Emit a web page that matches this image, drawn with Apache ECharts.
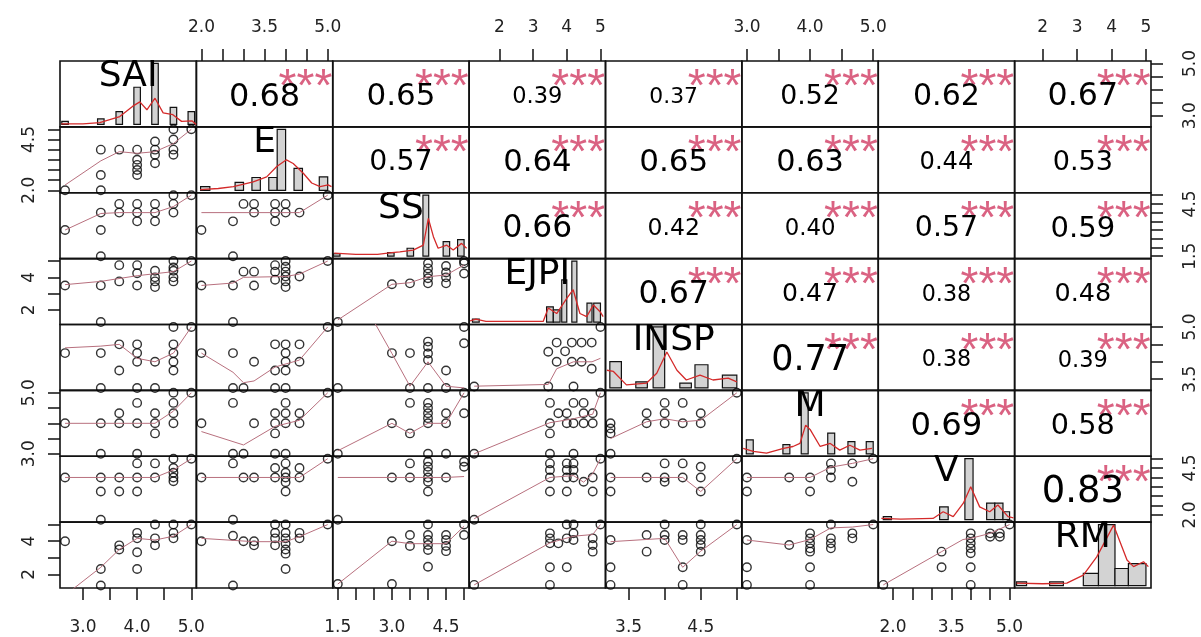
<!DOCTYPE html>
<html><head><meta charset="utf-8">
<script src="https://cdn.jsdelivr.net/npm/echarts/dist/echarts.min.js"></script>
<style>html,body{margin:0;padding:0;background:#fff}#c{width:1201px;height:637px}</style>
</head><body><div id="c"></div>
<script>
// ---------------- data ----------------
const varNames = ['SAI','E','SS','EJPI','INSP','M','V','RM'];
const varMin = [2.67, 2.0, 1.5, 1.25, 3.25, 3.0, 1.75, 1.33];
const varMax = [5.0, 5.0, 5.0, 5.0, 5.0, 5.0, 5.0, 5.0];

// tick positions per variable
const ticksSAI = [3.0,3.5,4.0,4.5,5.0];
const ticksE = [2.0,2.5,3.0,3.5,4.0,4.5,5.0];
const ticksSS = [1.5,2.0,2.5,3.0,3.5,4.0,4.5,5.0];
const ticksEJPI = [2,3,4,5];
const ticksINSP = [3.5,4.0,4.5,5.0];
const ticksM = [3.0,3.5,4.0,4.5,5.0];
const ticksV = [2.0,2.5,3.0,3.5,4.0,4.5,5.0];
const ticksRM = [2,3,4,5];
// labelled ticks on the column axis (top/bottom) and on the row axis (left/right)
const colLabelsSAI = [3.0,4.0,5.0], rowLabelsSAI = [3.0,5.0];
const colLabelsE = [2.0,3.5,5.0], rowLabelsE = [2.0,4.5];
const colLabelsSS = [1.5,3.0,4.5], rowLabelsSS = [1.5,4.5];
const colLabelsEJPI = [2,3,4,5], rowLabelsEJPI = [2,4];
const colLabelsINSP = [3.5,4.5], rowLabelsINSP = [3.5,5.0];
const colLabelsM = [3.0,4.0,5.0], rowLabelsM = [3.0,5.0];
const colLabelsV = [2.0,3.5,5.0], rowLabelsV = [2.0,4.5];
const colLabelsRM = [2,3,4,5], rowLabelsRM = [2,4];
const labelDecimals = [1,1,1,0,1,1,1,0];

// correlations (upper triangle, row by row) and significance
const corrSAI = [0.68,0.65,0.39,0.37,0.52,0.62,0.67];
const corrE = [0.57,0.64,0.65,0.63,0.44,0.53];
const corrSS = [0.66,0.42,0.40,0.57,0.59];
const corrEJPI = [0.67,0.47,0.38,0.48];
const corrINSP = [0.77,0.38,0.39];
const corrM = [0.69,0.58];
const corrV = [0.83];
const signifSAI = ['***','***','***','***','***','***','***'];
const signifE = ['***','***','***','***','***','***'];
const signifSS = ['***','***','***','***','***'];
const signifEJPI = ['***','***','***','***'];
const signifINSP = ['***','***','***'];
const signifM = ['***','***'];
const signifV = ['***'];

// histograms on the diagonal: [binStart, binEnd, relative density]
const histSAI = [[2.61,2.73,0.05],[3.27,3.39,0.09],[3.61,3.73,0.21],[3.94,4.06,0.61],[4.27,4.39,1.0],[4.61,4.73,0.28],[4.94,5.06,0.21]];
const histE = [[1.98,2.2,0.06],[2.8,3.0,0.13],[3.2,3.4,0.21],[3.6,3.8,0.21],[3.8,4.0,1.0],[4.2,4.4,0.36],[4.8,5.0,0.22]];
const histSS = [[1.38,1.56,0.04],[2.88,3.06,0.06],[3.42,3.6,0.13],[3.86,4.02,1.0],[4.42,4.6,0.24],[4.82,5.0,0.27]];
const histEJPI = [[1.2,1.4,0.05],[3.4,3.6,0.25],[3.6,3.8,0.2],[3.85,4.0,0.69],[4.15,4.3,1.0],[4.6,4.75,0.31],[4.8,5.0,0.31]];
const histINSP = [[3.24,3.4,0.43],[3.6,3.76,0.1],[3.84,4.0,1.0],[4.21,4.37,0.08],[4.42,4.6,0.38],[4.8,5.0,0.21]];
const histM = [[2.99,3.1,0.23],[3.57,3.68,0.15],[3.86,3.97,1.0],[4.28,4.39,0.34],[4.6,4.71,0.2],[4.89,5.0,0.2]];
const histV = [[1.75,1.96,0.05],[3.2,3.42,0.21],[3.85,4.06,1.0],[4.41,4.62,0.27],[4.62,4.83,0.27],[4.83,5.0,0.13]];
const histRM = [[1.24,1.53,0.06],[2.2,2.6,0.06],[3.18,3.62,0.2],[3.62,4.1,1.0],[4.1,4.49,0.28],[4.49,5.0,0.36]];
// density curves on the diagonal: [x, relative density]
const densSAI = [[2.6,0.01],[3.0,0.01],[3.31,0.03],[3.68,0.13],[3.92,0.3],[4.05,0.37],[4.18,0.24],[4.33,0.43],[4.48,0.19],[4.66,0.16],[4.82,0.05],[5.01,0.06],[5.09,0.0]];
const densE = [[1.97,0.01],[2.4,0.03],[2.76,0.06],[3.23,0.14],[3.55,0.22],[3.79,0.39],[4.02,0.5],[4.18,0.44],[4.42,0.28],[4.62,0.12],[4.82,0.06],[5.01,0.09],[5.09,0.06]];
const densSS = [[1.4,0.05],[2.0,0.03],[2.6,0.03],[3.0,0.06],[3.22,0.07],[3.59,0.1],[3.87,0.18],[4.01,0.62],[4.15,0.32],[4.28,0.13],[4.52,0.18],[4.7,0.1],[4.93,0.21],[5.07,0.13]];
const densEJPI = [[1.13,0.02],[1.3,0.05],[1.6,0.01],[3.3,0.01],[3.45,0.23],[3.7,0.14],[4.0,0.39],[4.19,0.53],[4.39,0.14],[4.59,0.09],[4.79,0.28],[4.99,0.17],[5.08,0.09]];
const densINSP = [[3.2,0.29],[3.29,0.27],[3.47,0.05],[3.75,0.08],[3.89,0.24],[4.03,0.59],[4.17,0.29],[4.3,0.13],[4.49,0.21],[4.67,0.13],[4.88,0.16],[5.0,0.1]];
const densM = [[2.94,0.09],[3.1,0.04],[3.31,0.01],[3.58,0.09],[3.73,0.12],[3.84,0.17],[3.93,0.47],[4.0,0.4],[4.16,0.12],[4.32,0.17],[4.47,0.06],[4.63,0.14],[4.79,0.06],[4.98,0.09]];
const densV = [[1.7,0.02],[2.2,0.01],[3.03,0.02],[3.29,0.13],[3.55,0.05],[3.81,0.27],[4.0,0.54],[4.23,0.21],[4.49,0.13],[4.7,0.24],[4.96,0.05],[5.1,0.03]];
const densRM = [[1.24,0.04],[2.0,0.03],[2.7,0.04],[3.18,0.17],[3.57,0.47],[4.06,0.99],[4.45,0.42],[4.64,0.31],[4.93,0.39],[5.07,0.31]];

// scatter points [x, y] and smoother [x, y] for the lower panels (y var _ x var)
const pts_E_SAI = [[2.67,2.0],[3.33,4.0],[3.33,2.75],[3.33,2.0],[3.67,4.0],[4.0,4.0],[4.0,3.5],[4.0,3.25],[4.0,3.0],[4.0,2.75],[4.33,4.4],[4.33,4.0],[4.33,3.75],[4.33,3.33],[4.67,5.0],[4.67,4.5],[4.67,4.0],[4.67,3.75],[5.0,5.0]];
const fit_E_SAI = [[2.67,2.26],[3.33,3.45],[3.67,3.9],[4.0,3.82],[4.33,3.9],[4.67,4.3],[5.0,5.0]];
const pts_SS_SAI = [[2.67,3.0],[3.33,4.0],[3.33,3.0],[3.33,1.5],[3.67,4.5],[3.67,4.0],[4.0,4.5],[4.0,4.0],[4.0,3.5],[4.33,4.5],[4.33,4.0],[4.33,3.5],[4.67,5.0],[4.67,4.5],[4.67,4.0],[5.0,5.0]];
const fit_SS_SAI = [[2.67,3.0],[3.33,3.95],[3.67,4.0],[4.0,4.0],[4.33,4.0],[4.67,4.35],[5.0,5.0]];
const pts_SS_E = [[2.0,3.0],[2.75,3.5],[2.75,1.5],[3.0,4.5],[3.25,4.5],[3.25,4.0],[3.75,4.5],[3.75,4.0],[3.75,3.5],[4.0,4.5],[4.0,4.0],[4.33,4.0],[5.0,5.0]];
const fit_SS_E = [[2.0,4.0],[4.33,4.0],[5.0,5.0]];
const pts_EJPI_SAI = [[2.67,3.5],[3.33,3.5],[3.33,1.25],[3.67,4.75],[3.67,3.75],[4.0,4.75],[4.0,4.25],[4.0,3.5],[4.33,4.4],[4.33,4.0],[4.33,3.75],[4.33,3.4],[4.67,5.0],[4.67,4.6],[4.67,4.4],[4.67,4.0],[4.67,3.75],[5.0,5.0]];
const fit_EJPI_SAI = [[2.67,3.55],[3.33,3.75],[4.0,4.1],[4.67,4.35],[5.0,5.0]];
const pts_EJPI_E = [[2.0,3.5],[2.75,3.5],[2.75,1.25],[3.0,4.35],[3.25,4.35],[3.25,3.5],[3.75,4.75],[3.75,4.35],[3.75,3.85],[4.0,5.0],[4.0,4.65],[4.0,4.35],[4.0,4.05],[4.0,3.75],[4.0,3.4],[4.33,4.05],[5.0,5.0]];
const fit_EJPI_E = [[2.0,3.5],[2.75,3.65],[3.0,4.0],[4.0,4.05],[4.33,4.2],[5.0,5.0]];
const pts_EJPI_SS = [[1.5,1.25],[3.0,3.57],[3.5,3.63],[4.0,4.86],[4.0,4.55],[4.0,4.24],[4.0,3.94],[4.0,3.63],[4.5,4.7],[4.5,4.3],[4.5,4.0],[4.5,3.63],[5.0,4.86],[5.0,4.24],[5.0,5.0]];
const fit_EJPI_SS = [[1.5,1.38],[3.0,3.57],[3.5,3.67],[4.0,4.04],[4.5,4.14],[5.0,4.76]];
const pts_INSP_SAI = [[2.67,4.25],[3.33,4.25],[3.33,3.25],[3.67,4.5],[3.67,3.75],[4.0,4.5],[4.0,4.25],[4.0,4.0],[4.0,3.25],[4.33,4.0],[4.33,3.25],[4.67,5.0],[4.67,4.5],[4.67,4.25],[4.67,4.0],[4.67,3.75],[5.0,5.0]];
const fit_INSP_SAI = [[2.67,4.4],[3.33,4.45],[3.67,4.5],[4.0,4.1],[4.33,4.0],[4.67,4.25],[5.0,5.0]];
const pts_INSP_E = [[2.0,4.25],[2.75,4.25],[2.75,3.25],[3.0,3.25],[3.25,4.0],[3.75,4.5],[3.75,3.75],[3.75,3.25],[4.0,4.5],[4.0,4.25],[4.0,4.0],[4.0,3.75],[4.0,3.25],[4.33,4.5],[4.33,4.0],[5.0,5.0]];
const fit_INSP_E = [[2.0,4.25],[2.75,3.7],[3.0,3.4],[3.25,3.45],[3.75,3.85],[4.33,4.05],[5.0,5.0]];
const pts_INSP_SS = [[1.5,3.25],[3.0,4.25],[3.5,4.25],[3.5,3.25],[4.0,4.58],[4.0,4.43],[4.0,4.24],[4.0,4.05],[4.0,3.25],[4.5,3.75],[4.5,3.25],[5.0,5.0],[5.0,4.53]];
const fit_INSP_SS = [[1.5,7.0],[3.0,4.24],[3.5,3.3],[4.0,4.0],[4.5,3.3],[5.0,3.25]];
const pts_INSP_EJPI = [[1.25,3.29],[3.45,4.29],[3.45,3.29],[3.7,4.55],[3.7,4.0],[3.95,4.3],[4.15,4.55],[4.15,4.0],[4.2,3.29],[4.44,4.55],[4.44,4.0],[4.74,4.55],[4.74,3.8],[5.0,5.0]];
const fit_INSP_EJPI = [[1.25,3.3],[3.45,3.35],[3.7,3.8],[4.2,4.0],[4.75,4.0],[5.0,4.1]];
const pts_M_SAI = [[2.67,4.0],[3.33,4.0],[3.33,3.0],[3.67,4.33],[3.67,4.0],[4.0,4.67],[4.0,4.0],[4.0,3.0],[4.33,4.33],[4.33,4.0],[4.33,3.67],[4.67,5.0],[4.67,4.67],[4.67,4.33],[4.67,4.0],[5.0,5.0]];
const fit_M_SAI = [[2.67,4.0],[4.33,4.0],[4.67,4.4],[5.0,5.0]];
const pts_M_E = [[2.0,4.0],[2.75,4.67],[2.75,3.0],[3.0,3.0],[3.25,4.0],[3.75,4.33],[3.75,4.0],[3.75,3.67],[3.75,3.0],[4.0,4.67],[4.0,4.33],[4.0,4.0],[4.0,3.0],[4.33,4.33],[4.33,4.0],[5.0,5.0]];
const fit_M_E = [[2.0,3.73],[3.0,3.29],[3.75,3.9],[4.33,4.1],[5.0,5.0]];
const pts_M_SS = [[1.5,3.0],[3.0,4.0],[3.5,4.67],[3.5,3.67],[4.0,4.67],[4.0,4.5],[4.0,4.33],[4.0,4.17],[4.0,4.0],[4.0,3.0],[4.5,4.33],[4.5,4.0],[4.5,3.0],[5.0,5.0],[5.0,4.33]];
const fit_M_SS = [[1.5,3.1],[3.0,4.0],[3.5,3.67],[4.0,4.0],[4.5,4.0],[5.0,5.0]];
const pts_M_EJPI = [[1.25,3.0],[3.5,4.67],[3.5,4.0],[3.5,3.67],[3.5,3.0],[3.75,4.33],[4.0,4.33],[4.0,4.0],[4.2,4.67],[4.2,4.0],[4.2,3.0],[4.5,4.67],[4.5,4.33],[4.5,4.0],[4.77,4.33],[4.77,4.0],[5.0,5.0]];
const fit_M_EJPI = [[1.25,3.0],[3.5,4.02],[4.2,4.15],[4.77,4.3],[5.0,5.0]];
const pts_M_INSP = [[3.25,4.0],[3.25,3.83],[3.25,3.67],[3.25,3.0],[3.75,4.33],[3.75,4.0],[4.0,4.67],[4.0,4.33],[4.0,4.0],[4.25,4.67],[4.25,4.0],[4.5,4.33],[4.5,4.0],[5.0,5.0]];
const fit_M_INSP = [[3.25,3.5],[3.75,4.05],[4.0,4.15],[4.25,4.05],[4.5,4.1],[5.0,5.0]];
const pts_V_SAI = [[2.67,4.0],[3.33,4.0],[3.33,3.25],[3.33,1.75],[3.67,4.0],[3.67,3.25],[4.0,4.75],[4.0,4.0],[4.0,3.25],[4.33,4.75],[4.33,4.0],[4.67,5.0],[4.67,4.5],[4.67,4.25],[4.67,4.0],[4.67,3.8],[5.0,5.0]];
const fit_V_SAI = [[2.67,4.0],[4.33,4.0],[4.67,4.4],[5.0,5.0]];
const pts_V_E = [[2.0,4.0],[2.75,4.75],[2.75,1.75],[3.0,4.0],[3.25,4.0],[3.75,4.5],[3.75,4.0],[4.0,4.75],[4.0,4.25],[4.0,4.0],[4.0,3.75],[4.0,3.25],[4.33,4.5],[4.33,4.0],[5.0,5.0]];
const fit_V_E = [[2.0,4.0],[4.33,4.0],[5.0,5.0]];
const pts_V_SS = [[1.5,1.75],[3.0,4.0],[3.5,4.75],[3.5,4.0],[4.0,4.84],[4.0,4.57],[4.0,4.3],[4.0,4.0],[4.0,3.77],[4.0,3.25],[4.5,4.0],[5.0,4.84],[5.0,4.57]];
const fit_V_SS = [[1.5,4.0],[4.5,4.0],[5.0,4.05]];
const pts_V_EJPI = [[1.25,1.75],[3.5,4.75],[3.5,4.4],[3.5,4.0],[3.5,3.25],[4.0,4.75],[4.0,4.4],[4.0,4.0],[4.0,3.25],[4.2,4.75],[4.2,4.4],[4.2,4.0],[4.5,3.77],[4.77,4.0],[4.77,3.25],[5.0,5.0]];
const fit_V_EJPI = [[1.25,1.8],[3.5,4.0],[4.2,4.1],[4.5,3.75],[4.77,4.2],[5.0,5.0]];
const pts_V_INSP = [[3.25,4.0],[3.25,3.25],[3.75,4.0],[4.0,4.75],[4.0,4.0],[4.0,3.77],[4.25,4.75],[4.25,4.0],[4.5,4.57],[4.5,4.0],[4.5,3.25],[5.0,5.0]];
const fit_V_INSP = [[3.25,4.0],[4.25,4.0],[4.5,3.25],[5.0,5.0]];
const pts_V_M = [[3.0,4.0],[3.0,3.25],[3.67,4.0],[4.0,4.0],[4.0,3.25],[4.33,4.75],[4.33,4.4],[4.33,4.0],[4.67,4.75],[4.67,3.77],[5.0,5.0]];
const fit_V_M = [[3.0,4.0],[4.0,4.0],[4.33,4.55],[4.67,4.75],[5.0,5.0]];
const pts_RM_SAI = [[2.67,4.0],[3.33,2.33],[3.33,1.33],[3.67,3.75],[3.67,3.5],[4.0,4.5],[4.0,4.17],[4.0,3.33],[4.0,2.33],[4.33,5.0],[4.33,4.17],[4.33,3.75],[4.67,5.0],[4.67,4.5],[4.67,4.17],[5.0,5.0]];
const fit_RM_SAI = [[2.67,0.75],[3.33,2.43],[3.67,3.5],[4.0,4.17],[4.33,4.07],[4.67,4.3],[5.0,5.0]];
const pts_RM_E = [[2.0,4.0],[2.75,4.33],[2.75,1.33],[3.0,4.0],[3.25,4.0],[3.25,3.75],[3.75,5.0],[3.75,4.5],[3.75,4.17],[3.75,3.75],[4.0,5.0],[4.0,4.5],[4.0,4.17],[4.0,3.85],[4.0,3.5],[4.0,3.25],[4.0,2.33],[4.33,4.5],[4.33,4.17],[5.0,5.0]];
const fit_RM_E = [[2.0,4.17],[3.25,3.97],[4.0,3.97],[4.33,4.27],[5.0,5.0]];
const pts_RM_SS = [[1.5,1.42],[3.0,4.0],[3.0,1.42],[3.5,4.37],[3.5,3.71],[4.0,5.0],[4.0,4.37],[4.0,4.07],[4.0,3.77],[4.0,3.47],[4.0,2.46],[4.5,4.37],[4.5,4.07],[4.5,3.71],[4.5,3.4],[5.0,5.0],[5.0,4.37]];
const fit_RM_SS = [[1.5,1.42],[3.0,4.0],[3.5,3.85],[4.0,3.85],[4.5,3.85],[5.0,4.9]];
const pts_RM_EJPI = [[1.25,1.37],[3.5,4.47],[3.5,4.17],[3.5,3.87],[3.5,2.43],[3.5,1.37],[3.75,3.87],[4.0,5.0],[4.0,4.17],[4.0,2.43],[4.2,5.0],[4.2,4.47],[4.2,4.07],[4.77,4.17],[4.77,3.77],[4.77,3.37],[5.0,5.0]];
const fit_RM_EJPI = [[1.25,1.37],[3.5,3.9],[4.2,4.3],[4.77,4.4],[5.0,5.0]];
const pts_RM_INSP = [[3.25,4.07],[3.25,2.43],[3.25,1.37],[3.75,4.37],[3.75,3.37],[4.0,5.0],[4.0,4.37],[4.0,4.07],[4.25,4.37],[4.25,4.07],[4.25,2.43],[4.25,1.37],[4.5,5.0],[4.5,4.37],[4.5,4.07],[4.5,3.77],[4.5,3.37],[5.0,5.0]];
const fit_RM_INSP = [[3.25,3.97],[4.0,4.17],[4.25,2.43],[4.5,3.4],[5.0,5.0]];
const pts_RM_M = [[3.0,4.07],[3.0,2.43],[3.0,1.37],[3.67,3.77],[4.0,4.47],[4.0,4.17],[4.0,3.87],[4.0,3.57],[4.0,3.37],[4.0,2.43],[4.0,1.37],[4.33,5.0],[4.33,4.17],[4.33,3.87],[4.33,3.57],[4.67,4.47],[4.67,4.17],[5.0,5.0]];
const fit_RM_M = [[3.0,4.07],[3.67,3.77],[4.0,4.1],[4.33,4.8],[4.67,4.85],[5.0,5.0]];
const pts_RM_V = [[1.75,1.37],[3.25,3.37],[3.25,2.43],[4.0,4.47],[4.0,4.17],[4.0,3.87],[4.0,3.57],[4.0,3.27],[4.0,2.43],[4.0,1.37],[4.5,4.47],[4.5,4.27],[4.75,4.47],[4.75,4.27],[5.0,5.0]];
const fit_RM_V = [[1.75,1.37],[3.25,3.37],[3.8,4.1],[4.0,4.17],[4.5,4.47],[5.0,5.0]];

// ---------------- tables built from the arrays ----------------
const tickVals = [ticksSAI,ticksE,ticksSS,ticksEJPI,ticksINSP,ticksM,ticksV,ticksRM];
const colLabels = [colLabelsSAI,colLabelsE,colLabelsSS,colLabelsEJPI,colLabelsINSP,colLabelsM,colLabelsV,colLabelsRM];
const rowLabels = [rowLabelsSAI,rowLabelsE,rowLabelsSS,rowLabelsEJPI,rowLabelsINSP,rowLabelsM,rowLabelsV,rowLabelsRM];
const corrRows = [corrSAI,corrE,corrSS,corrEJPI,corrINSP,corrM,corrV];
const signifRows = [signifSAI,signifE,signifSS,signifEJPI,signifINSP,signifM,signifV];
const hists = [histSAI,histE,histSS,histEJPI,histINSP,histM,histV,histRM];
const dens = [densSAI,densE,densSS,densEJPI,densINSP,densM,densV,densRM];
const lowerPanels = [
  [1,0,pts_E_SAI,fit_E_SAI],
  [2,0,pts_SS_SAI,fit_SS_SAI],[2,1,pts_SS_E,fit_SS_E],
  [3,0,pts_EJPI_SAI,fit_EJPI_SAI],[3,1,pts_EJPI_E,fit_EJPI_E],[3,2,pts_EJPI_SS,fit_EJPI_SS],
  [4,0,pts_INSP_SAI,fit_INSP_SAI],[4,1,pts_INSP_E,fit_INSP_E],[4,2,pts_INSP_SS,fit_INSP_SS],[4,3,pts_INSP_EJPI,fit_INSP_EJPI],
  [5,0,pts_M_SAI,fit_M_SAI],[5,1,pts_M_E,fit_M_E],[5,2,pts_M_SS,fit_M_SS],[5,3,pts_M_EJPI,fit_M_EJPI],[5,4,pts_M_INSP,fit_M_INSP],
  [6,0,pts_V_SAI,fit_V_SAI],[6,1,pts_V_E,fit_V_E],[6,2,pts_V_SS,fit_V_SS],[6,3,pts_V_EJPI,fit_V_EJPI],[6,4,pts_V_INSP,fit_V_INSP],[6,5,pts_V_M,fit_V_M],
  [7,0,pts_RM_SAI,fit_RM_SAI],[7,1,pts_RM_E,fit_RM_E],[7,2,pts_RM_SS,fit_RM_SS],[7,3,pts_RM_EJPI,fit_RM_EJPI],[7,4,pts_RM_INSP,fit_RM_INSP],[7,5,pts_RM_M,fit_RM_M],[7,6,pts_RM_V,fit_RM_V]
];

// ---------------- layout / style ----------------
const N = 8, GL = 60, GT = 61, GW = 136.375, GH = 65.875;
const FONT = 'DejaVu Sans';
const STAR_COLOR = '#DA6282', FIT_COLOR = '#B8707E', DENS_COLOR = '#D42A2A';
function axisRange(k){ const e = 0.04*(varMax[k]-varMin[k]); return [varMin[k]-e, varMax[k]+e]; }
function fmt(k){ return v => labelDecimals[k] === 0 ? String(Math.round(v)) : Number(v).toFixed(1); }

function makeAxis(g, lo, hi, k, pos, dim){
  const ax = {gridIndex:g, type:'value', min:lo, max:hi, scale:false,
    splitLine:{show:false}, axisLine:{show:false}, axisTick:{show:false}, axisLabel:{show:false}};
  if (!pos) return ax;
  ax.position = pos;
  ax.axisTick = {show:true, inside:false, length:12, lineStyle:{color:'#111', width:1.5}, customValues: tickVals[k]};
  const margins = {top:25, bottom:31, left:22, right:31};
  ax.axisLabel = {show:true, customValues: dim === 'x' ? colLabels[k] : rowLabels[k], formatter: fmt(k),
    fontFamily: FONT, fontSize: 17, color:'#222', margin: margins[pos], rotate: dim === 'y' ? 90 : 0,
    showMinLabel:true, showMaxLabel:true, hideOverlap:false};
  return ax;
}

function textSeries(g, point, text, font, size, color, z){
  return {type:'scatter', xAxisIndex:g, yAxisIndex:g, data:[point], symbolSize:0,
    itemStyle:{color:'#000'}, silent:true, clip:false, z: z || 6,
    label:{show:true, position:'inside', formatter: text, fontFamily: font, fontSize: size, color: color,
      textBorderWidth:0, textShadowBlur:0, opacity:1}};
}

const grids = [], xAxes = [], yAxes = [], series = [];
for (let i = 0; i < N; i++) {
  for (let j = 0; j < N; j++) {
    const g = i*N + j;
    grids.push({left: GL + j*GW, top: GT + i*GH, width: GW, height: GH, show:true,
      borderColor:'#111', borderWidth:1.6, backgroundColor:'rgba(0,0,0,0)'});
    const [xlo, xhi] = axisRange(j);
    const [ylo, yhi] = (i === j) ? [-0.04, 1.04] : axisRange(i);
    const xpos = (i === 0 && j % 2 === 1) ? 'top' : ((i === N-1 && j % 2 === 0) ? 'bottom' : null);
    const ypos = (j === 0 && i % 2 === 1) ? 'left' : ((j === N-1 && i % 2 === 0) ? 'right' : null);
    xAxes.push(makeAxis(g, xlo, xhi, j, xpos, 'x'));
    yAxes.push(makeAxis(g, ylo, yhi, i, ypos, 'y'));

    if (i === j) {
      series.push({type:'custom', xAxisIndex:g, yAxisIndex:g, data: hists[i], clip:true, silent:true, z:2,
        renderItem: (params, api) => {
          const p0 = api.coord([api.value(0), 0]);
          const p1 = api.coord([api.value(1), api.value(2)]);
          return {type:'rect', shape:{x:p0[0], y:p1[1], width:p1[0]-p0[0], height:p0[1]-p1[1]},
            style:{fill:'#D3D3D3', stroke:'#111', lineWidth:1.2}};
        }});
      series.push({type:'line', xAxisIndex:g, yAxisIndex:g, data: dens[i], showSymbol:false, symbol:'none',
        clip:true, silent:true, z:3, lineStyle:{color:DENS_COLOR, width:1.3}});
      series.push(textSeries(g, [(xlo+xhi)/2, 0.78], varNames[i], FONT, 36, '#000', 6));
    } else if (j > i) {
      const r = corrRows[i][j-i-1];
      const s = signifRows[i][j-i-1];
      series.push(textSeries(g, [(xlo+xhi)/2, ylo+0.45*(yhi-ylo)], r.toFixed(2), FONT, 32.65*(Math.abs(r)+0.3), '#000', 6));
      series.push(textSeries(g, [xlo+0.8*(xhi-xlo), ylo+0.58*(yhi-ylo)], s, 'Liberation Sans', 46, STAR_COLOR, 5));
    }
  }
}
lowerPanels.forEach(([i, j, pts, fit]) => {
  const g = i*N + j;
  series.push({type:'scatter', xAxisIndex:g, yAxisIndex:g, data: pts, symbol:'circle', symbolSize:8.5, clip:true, silent:true,
    itemStyle:{color:'rgba(0,0,0,0)', borderColor:'#000', borderWidth:1.4}});
  series.push({type:'line', xAxisIndex:g, yAxisIndex:g, data: fit, showSymbol:false, symbol:'none', clip:true, silent:true,
    lineStyle:{color:FIT_COLOR, width:1}});
});

const chart = echarts.init(document.getElementById('c'), null, {renderer:'canvas'});
chart.setOption({backgroundColor:'#fff', animation:false, grid:grids, xAxis:xAxes, yAxis:yAxes, series:series});
</script>
</body></html>
